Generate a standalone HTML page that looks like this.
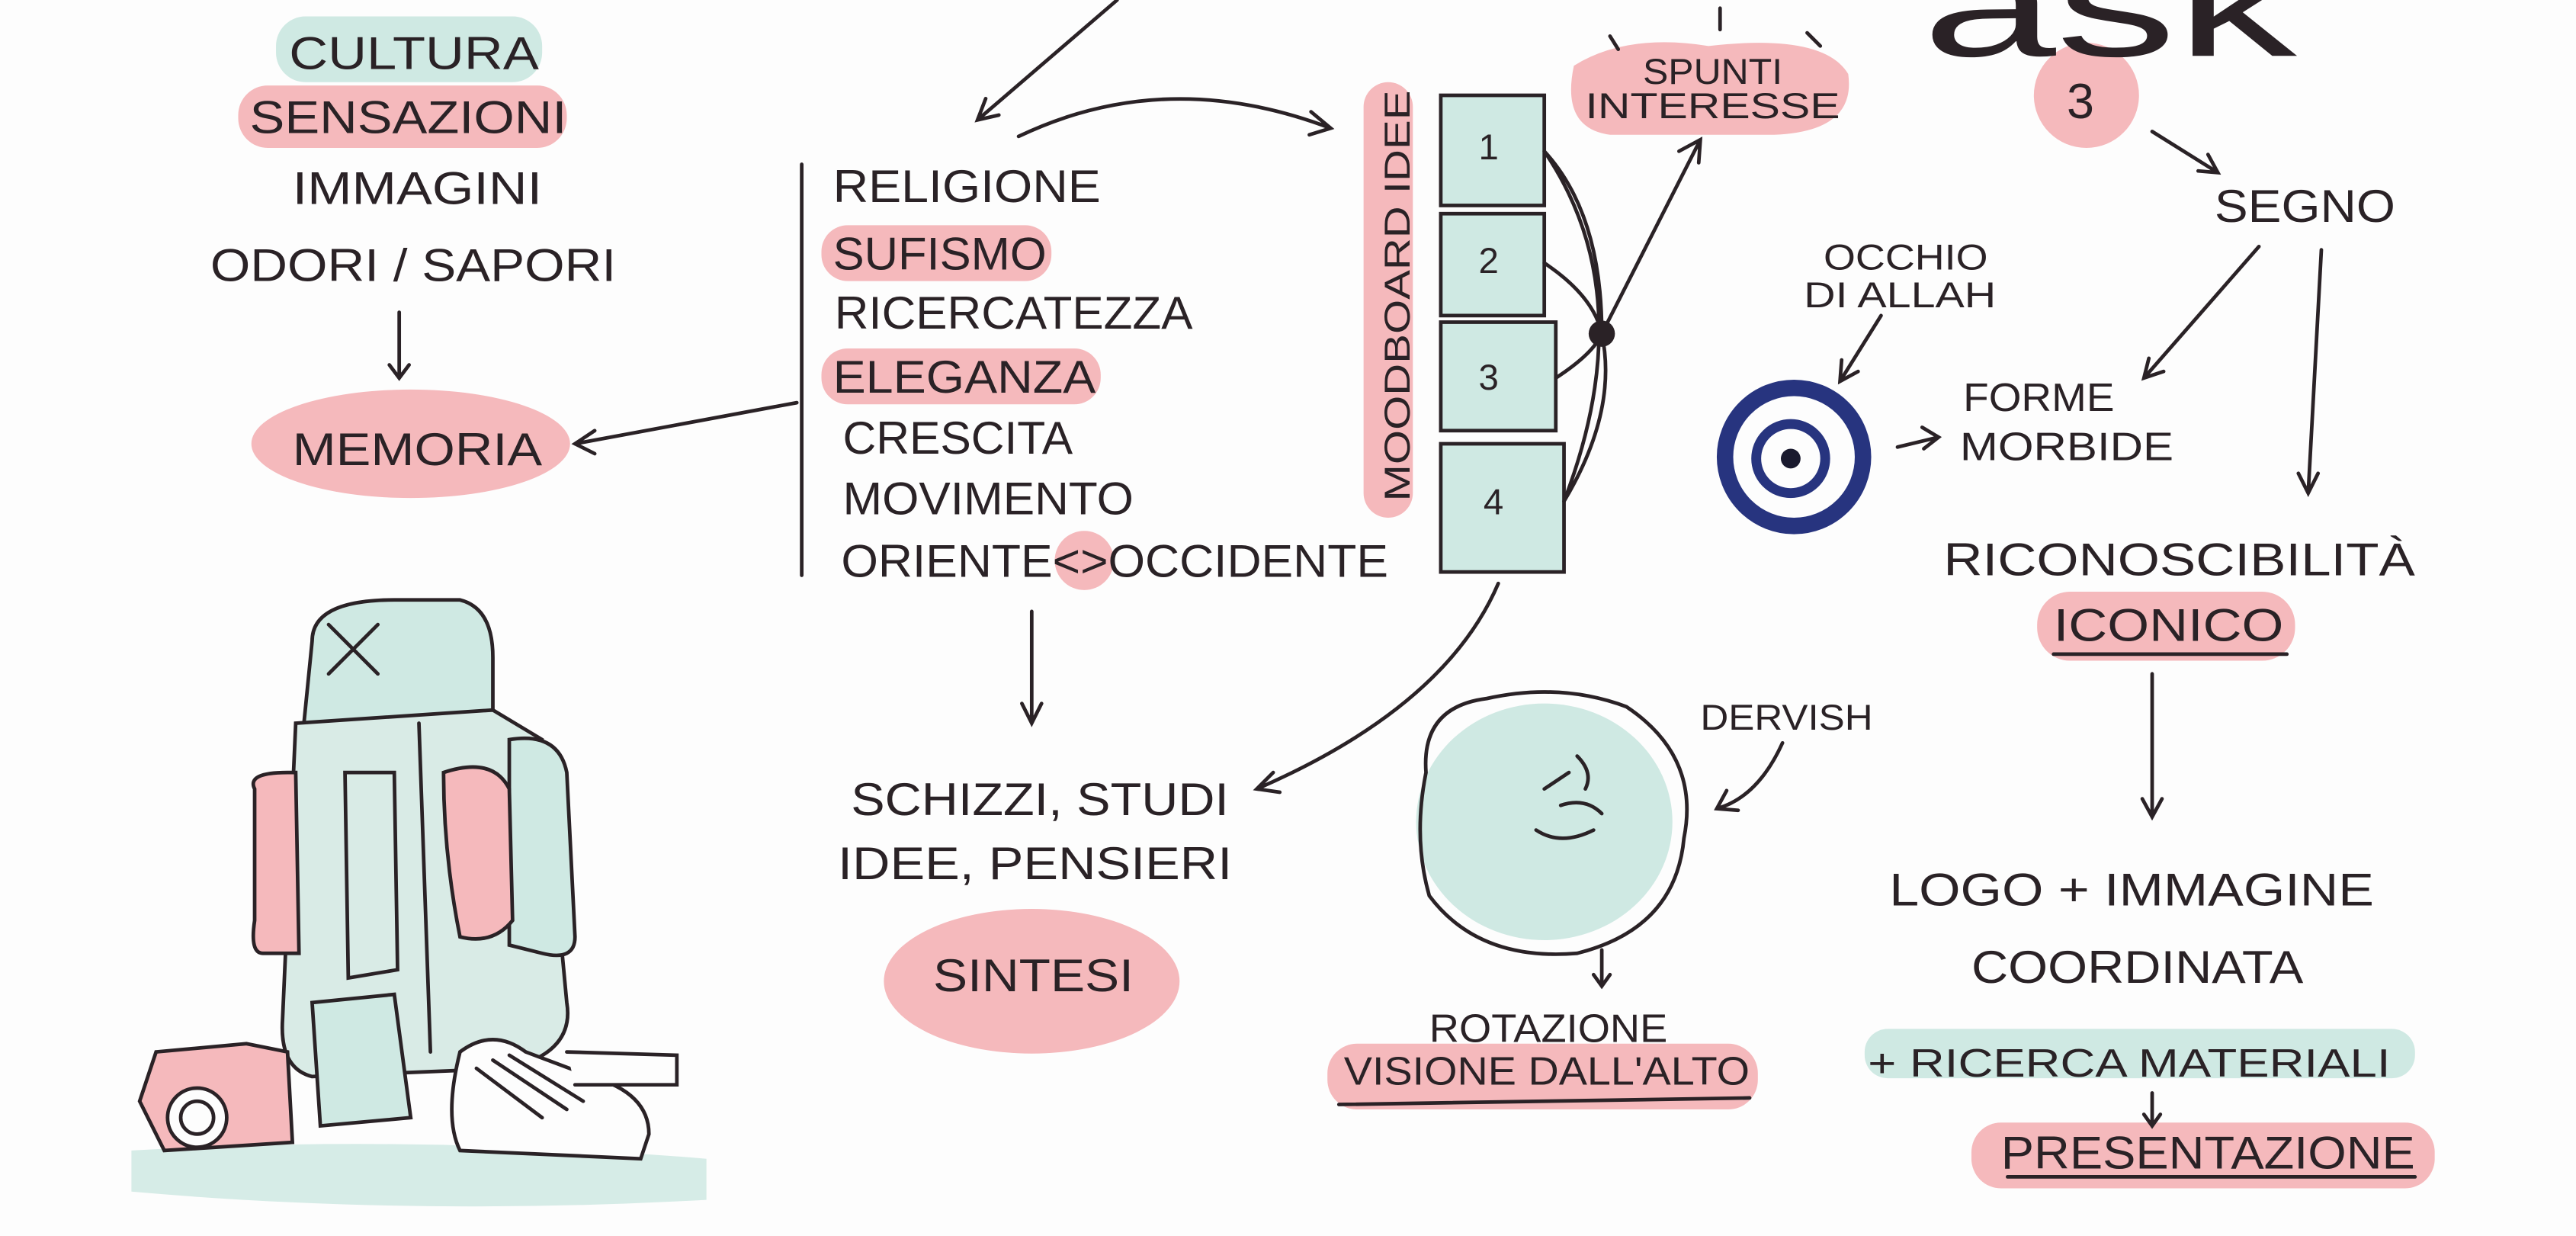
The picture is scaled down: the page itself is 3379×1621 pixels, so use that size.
<!DOCTYPE html>
<html><head><meta charset="utf-8"><style>
html,body{margin:0;padding:0;background:#fdfdfd;}
svg{display:block;}
text{font-family:"Liberation Sans",sans-serif;fill:#2a2226;}
</style></head><body>
<svg width="3379" height="1621" viewBox="0 0 1568 752" preserveAspectRatio="none" xmlns="http://www.w3.org/2000/svg">
<rect width="1568" height="752" fill="#fdfdfd"/>
<g fill="#cfe9e3">
<rect x="168" y="10" width="162" height="40" rx="18"/>
<rect x="877" y="58" width="63" height="67" rx="3"/>
<rect x="877" y="130" width="63" height="62" rx="3"/>
<rect x="877" y="196" width="70" height="66" rx="3"/>
<rect x="877" y="270" width="75" height="78" rx="3"/>
<rect x="1135" y="626" width="335" height="30" rx="14"/>
<ellipse cx="940" cy="500" rx="78" ry="72"/>
</g>
<g fill="#f5b9bc">
<rect x="145" y="52" width="200" height="38" rx="18"/>
<ellipse cx="250" cy="270" rx="97" ry="33"/>
<rect x="500" y="137" width="140" height="34" rx="16"/>
<rect x="500" y="212" width="170" height="34" rx="16"/>
<circle cx="660" cy="341" r="18"/>
<rect x="830" y="50" width="30" height="265" rx="15"/>
<path d="M958 40 Q990 20 1040 28 Q1110 20 1125 45 Q1130 80 1080 82 L980 82 Q950 78 958 40Z"/>
<circle cx="1270" cy="58" r="32"/>
<rect x="1240" y="360" width="157" height="42" rx="20"/>
<rect x="1200" y="683" width="282" height="40" rx="18"/>
<ellipse cx="628" cy="597" rx="90" ry="44"/>
<rect x="808" y="635" width="262" height="40" rx="18"/>
</g>
<g font-size="28">
<text x="176" y="42" textLength="152" lengthAdjust="spacingAndGlyphs">CULTURA</text>
<text x="152" y="81" textLength="193" lengthAdjust="spacingAndGlyphs">SENSAZIONI</text>
<text x="178" y="124" textLength="152" lengthAdjust="spacingAndGlyphs">IMMAGINI</text>
<text x="128" y="171" textLength="247" lengthAdjust="spacingAndGlyphs">ODORI / SAPORI</text>
<text x="178" y="283" textLength="152" lengthAdjust="spacingAndGlyphs">MEMORIA</text>
<text x="507" y="123" textLength="163" lengthAdjust="spacingAndGlyphs">RELIGIONE</text>
<text x="507" y="164" textLength="130" lengthAdjust="spacingAndGlyphs">SUFISMO</text>
<text x="508" y="200" textLength="218" lengthAdjust="spacingAndGlyphs">RICERCATEZZA</text>
<text x="507" y="239" textLength="160" lengthAdjust="spacingAndGlyphs">ELEGANZA</text>
<text x="513" y="276" textLength="140" lengthAdjust="spacingAndGlyphs">CRESCITA</text>
<text x="513" y="313" textLength="177" lengthAdjust="spacingAndGlyphs">MOVIMENTO</text>
<text x="512" y="351" textLength="333" lengthAdjust="spacingAndGlyphs">ORIENTE&lt;&gt;OCCIDENTE</text>
<text x="1348" y="135" textLength="110" lengthAdjust="spacingAndGlyphs">SEGNO</text>
<text x="1183" y="350" textLength="287" lengthAdjust="spacingAndGlyphs">RICONOSCIBILITÀ</text>
<text x="1250" y="390" textLength="140" lengthAdjust="spacingAndGlyphs">ICONICO</text>
<text x="1150" y="551" textLength="295" lengthAdjust="spacingAndGlyphs">LOGO + IMMAGINE</text>
<text x="1200" y="598" textLength="202" lengthAdjust="spacingAndGlyphs">COORDINATA</text>
<text x="1218" y="711" textLength="252" lengthAdjust="spacingAndGlyphs">PRESENTAZIONE</text>
<text x="518" y="496" textLength="230" lengthAdjust="spacingAndGlyphs">SCHIZZI, STUDI</text>
<text x="510" y="535" textLength="240" lengthAdjust="spacingAndGlyphs">IDEE, PENSIERI</text>
<text x="568" y="603" textLength="122" lengthAdjust="spacingAndGlyphs">SINTESI</text>
</g>
<g font-size="24">
<text x="1195" y="250" textLength="92" lengthAdjust="spacingAndGlyphs">FORME</text>
<text x="1193" y="280" textLength="130" lengthAdjust="spacingAndGlyphs">MORBIDE</text>
<text x="1137" y="655" textLength="318" lengthAdjust="spacingAndGlyphs">+ RICERCA MATERIALI</text>
<text x="870" y="634" textLength="145" lengthAdjust="spacingAndGlyphs">ROTAZIONE</text>
<text x="818" y="660" textLength="247" lengthAdjust="spacingAndGlyphs">VISIONE DALL'ALTO</text>
</g>
<g font-size="22">
<text x="1000" y="51" textLength="85" lengthAdjust="spacingAndGlyphs">SPUNTI</text>
<text x="965" y="72" textLength="155" lengthAdjust="spacingAndGlyphs">INTERESSE</text>
<text x="1110" y="164" textLength="100" lengthAdjust="spacingAndGlyphs">OCCHIO</text>
<text x="1098" y="187" textLength="117" lengthAdjust="spacingAndGlyphs">DI ALLAH</text>
<text x="1035" y="444" textLength="105" lengthAdjust="spacingAndGlyphs">DERVISH</text>
<text transform="translate(858,305) rotate(-90)" textLength="250" lengthAdjust="spacingAndGlyphs">MOODBOARD IDEE</text>
<text x="900" y="97">1</text><text x="900" y="166">2</text><text x="900" y="237">3</text><text x="903" y="313">4</text>
<text x="1258" y="72" font-size="30">3</text>
</g>
<text x="1170" y="34" font-size="88" font-family="Liberation Serif,serif" textLength="228" lengthAdjust="spacingAndGlyphs">ask</text>
<g stroke="#2a2226" stroke-width="2.2" fill="none" stroke-linecap="round">
<rect x="877" y="58" width="63" height="67"/><rect x="877" y="130" width="63" height="62"/>
<rect x="877" y="196" width="70" height="66"/><rect x="877" y="270" width="75" height="78"/>
<path d="M243 190 L243 230 M237 222 L243 230 L249 222"/>
<path d="M485 245 L350 270 M362 262 L350 270 L362 276"/>
<path d="M488 100 L488 350"/>
<path d="M680 0 L595 73 M600 60 L595 73 L608 70"/>
<path d="M620 83 Q710 40 810 78 M798 68 L810 78 L797 82"/>
<path d="M940 92 Q975 130 975 203 M940 160 Q970 180 975 203 M947 230 Q970 215 975 203 M952 305 Q985 250 975 203 M940 92 Q1000 180 952 305"/>
<path d="M975 203 L1035 85 M1022 92 L1035 85 L1034 99"/>
<path d="M1310 80 L1350 105 M1338 104 L1350 105 L1344 94"/>
<path d="M1375 150 L1305 230 M1308 218 L1305 230 L1317 226"/>
<path d="M1413 152 L1405 300 M1399 288 L1405 300 L1411 288"/>
<path d="M1145 192 L1120 232 M1121 219 L1120 232 L1131 226"/>
<path d="M1155 272 L1180 266 M1170 260 L1180 266 L1171 273"/>
<path d="M1250 398 L1392 398"/>
<path d="M1310 410 L1310 497 M1304 486 L1310 497 L1316 486"/>
<path d="M1310 665 L1310 685 M1305 678 L1310 685 L1315 678"/>
<path d="M1222 716 L1470 716"/>
<path d="M628 372 L628 440 M622 428 L628 440 L634 428"/>
<path d="M912 355 Q880 430 765 480 M775 470 L765 480 L779 482"/>
<path d="M1085 452 Q1070 485 1045 492 M1051 481 L1045 492 L1058 493"/>
<path d="M975 578 L975 600 M970 593 L975 600 L980 593"/>
<path d="M815 672 L1065 668"/>
<path d="M1047 5 L1047 18 M980 22 L985 30 M1100 20 L1108 28"/>
<path d="M868 470 Q865 430 905 425 Q950 415 990 430 Q1035 460 1025 510 Q1020 565 960 580 Q900 585 870 545 Q860 510 868 470Z"/>
<path d="M940 480 L955 470 M950 490 Q965 485 975 495 M935 505 Q950 515 970 505 M960 460 Q970 470 965 480"/>
</g>
<circle cx="975" cy="203" r="8" fill="#2a2226"/>
<circle cx="1092" cy="278" r="42" fill="none" stroke="#27347f" stroke-width="10"/>
<circle cx="1090" cy="279" r="21" fill="#fdfdfd" stroke="#27347f" stroke-width="6"/>
<circle cx="1090" cy="279" r="6" fill="#1a1a2e"/>
<g stroke="#2a2226" stroke-width="2.2" stroke-linecap="round">
<path d="M80 700 Q250 690 430 705 L430 730 Q250 740 80 725Z" fill="#d6ece7" stroke="none"/>
<path d="M190 390 Q190 365 240 365 L280 365 Q300 370 300 400 L300 435 L185 440Z" fill="#cfe9e3"/>
<path d="M200 380 L230 410 M230 380 L200 410" />
<path d="M180 440 L300 432 L330 450 L345 610 Q350 640 310 650 L190 655 Q170 650 172 620Z" fill="#d9ebe6"/>
<path d="M155 480 Q150 470 175 470 L180 470 L182 580 L160 580 Q152 580 155 560Z" fill="#f5b9bc"/>
<path d="M310 450 Q340 445 345 470 L350 570 Q350 585 330 580 L310 575Z" fill="#cfe9e3"/>
<path d="M270 470 Q300 460 310 480 L312 560 Q300 575 280 570 Q270 520 270 470Z" fill="#f5b9bc"/>
<path d="M255 440 L262 640 M210 470 L240 470 L242 590 L212 595Z" fill="none"/>
<path d="M190 610 L240 605 L250 680 L195 685Z" fill="#cfe9e3"/>
<path d="M95 640 L150 635 L175 640 L178 695 L100 700 L85 670Z" fill="#f5b9bc"/>
<circle cx="120" cy="680" r="18" fill="#fdfdfd"/><circle cx="120" cy="680" r="10" fill="none"/>
<path d="M280 640 Q300 625 320 640 L360 655 Q395 665 395 690 L390 705 L280 700 Q270 680 280 640Z" fill="#fdfdfd"/>
<path d="M290 650 L330 680 M300 645 L345 675 M310 642 L355 670"/>
<path d="M345 640 L412 642 L412 660 L350 660" fill="#fdfdfd"/>
</g>
</svg>
</body></html>
